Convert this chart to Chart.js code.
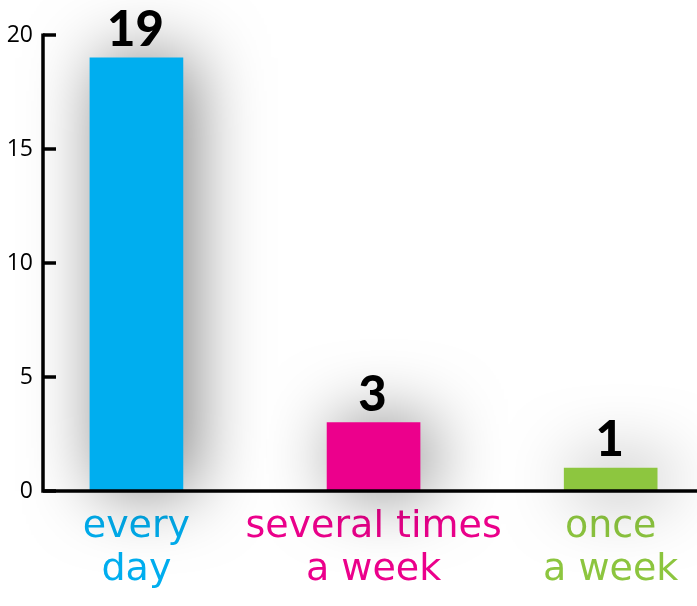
<!DOCTYPE html>
<html>
<head>
<meta charset="utf-8">
<script src="https://cdn.jsdelivr.net/npm/chart.js@4/dist/chart.umd.min.js"></script>
<style>
  html, body { margin: 0; padding: 0; background: #fff; }
  #wrap { width: 697px; height: 606px; position: relative; }
</style>
</head>
<body>
<div id="wrap"><canvas id="chart"></canvas></div>
<script>
// How often - answers per category
const categories = [['every', 'day'], ['several times', 'a week'], ['once', 'a week']];
const counts = [19, 3, 1];
const barColors = ['#00aeef', '#ec008c', '#8dc63f'];
const yTicks = [0, 5, 10, 15, 20];

// soft grey halo behind the bars
const shadowPlugin = {
    id: 'barShadow',
    beforeDatasetsDraw(chart) {
        const ctx = chart.ctx;
        ctx.save();
        ctx.shadowColor = 'rgba(0, 0, 0, 0.5)';
        ctx.shadowBlur = 70;
        ctx.shadowOffsetX = 10;
        ctx.shadowOffsetY = 0;
    },
    afterDatasetsDraw(chart) {
        chart.ctx.restore();
    }
};

// axis lines, inward tick marks on the y axis + big value labels over bars
const extrasPlugin = {
    id: 'extras',
    afterDraw(chart) {
        const ctx = chart.ctx;
        const y = chart.scales.y;
        const { left, right, top, bottom } = chart.chartArea;
        ctx.save();
        ctx.strokeStyle = '#000';
        ctx.lineWidth = 3.5;
        ctx.lineCap = 'butt';
        ctx.beginPath();
        ctx.moveTo(left, top - 1.5);
        ctx.lineTo(left, bottom);
        ctx.lineTo(right, bottom);
        ctx.stroke();
        y.ticks.forEach((t, i) => {
            const py = y.getPixelForTick(i);
            ctx.beginPath();
            ctx.moveTo(left, py);
            ctx.lineTo(left + 13, py);
            ctx.stroke();
        });

        const meta = chart.getDatasetMeta(0);
        ctx.fillStyle = '#000';
        ctx.font = '900 49px Lato, "DejaVu Sans", sans-serif';
        ctx.textAlign = 'center';
        ctx.textBaseline = 'alphabetic';
        meta.data.forEach((bar, i) => {
            ctx.fillText(String(counts[i]), bar.x - 1, bar.y - 12);
        });
        ctx.restore();
    }
};

new Chart(document.getElementById('chart'), {
    type: 'bar',
    data: {
        datasets: [{
            data: counts.map((v, i) => ({ x: i, y: v })),
            backgroundColor: barColors,
            borderWidth: 0,
            barThickness: 93,
            clip: false
        }]
    },
    options: {
        responsive: true,
        maintainAspectRatio: false,
        animation: false,
        layout: { padding: { top: 35, right: 0, left: 0, bottom: 0 } },
        plugins: {
            legend: { display: false },
            tooltip: { enabled: false }
        },
        scales: {
            x: {
                type: 'linear',
                offset: false,
                min: -0.394,
                max: 2.364,
                afterBuildTicks: axis => {
                    axis.ticks = categories.map((c, i) => ({ value: i }));
                },
                afterFit: axis => { axis.height = 115; },
                grid: { display: false, drawTicks: false },
                border: { display: false },
                ticks: {
                    autoSkip: false,
                    maxRotation: 0,
                    padding: 14,
                    callback: (v, i) => categories[i],
                    color: ctx => barColors[ctx.index],
                    font: { family: '"DejaVu Sans", sans-serif', size: 38, lineHeight: 1.15 }
                }
            },
            y: {
                min: 0,
                max: 20,
                afterBuildTicks: axis => {
                    axis.ticks = yTicks.map(v => ({ value: v }));
                },
                afterFit: axis => { axis.width = 43; },
                grid: { display: false, drawTicks: false },
                border: { display: false },
                ticks: {
                    padding: 10,
                    color: '#000',
                    font: { family: '"Open Sans", sans-serif', size: 23 }
                }
            }
        }
    },
    plugins: [shadowPlugin, extrasPlugin]
});
</script>
</body>
</html>
